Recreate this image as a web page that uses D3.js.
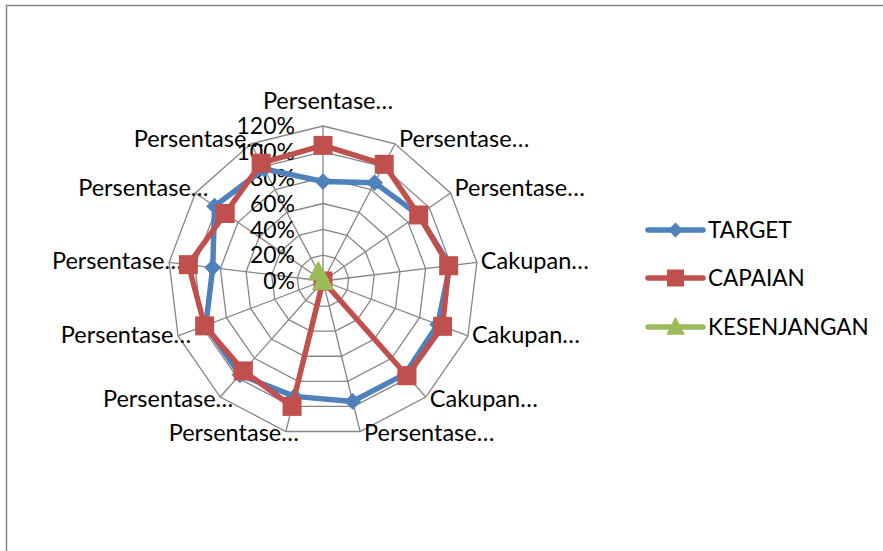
<!DOCTYPE html>
<html>
<head>
<meta charset="utf-8">
<script src="https://cdn.jsdelivr.net/npm/d3@7"></script>
<style>
  body { margin: 0; background: #fff; }
  svg { display: block; font-family: Lato, "Open Sans", sans-serif; }
</style>
</head>
<body>
<svg id="chart" width="883" height="551"></svg>
<script>
// axis labels, clockwise from the top (truncated as in the chart)
var axisLabels = ["Persentase…", "Persentase…", "Persentase…", "Cakupan…", "Cakupan…", "Cakupan…",
    "Persentase…", "Persentase…", "Persentase…", "Persentase…", "Persentase…", "Persentase…", "Persentase…"];

// values in %, one per axis
var target = [77, 86, 90, 99, 95, 96, 96, 92, 97, 97, 86, 102, 98];
var capaian = [105, 102, 90, 98, 99, 98, 0, 100, 93, 98, 105, 92, 103];
var kesenjangan = [0, 0, 0, 0, 0, 0, 0, 0, 0, 0, 0, 0, 8];

var tickValues = [0, 20, 40, 60, 80, 100, 120];
var seriesNames = ["TARGET", "CAPAIAN", "KESENJANGAN"];

var colors = ["#4F81BD", "#C0504D", "#9BBB59"];
var cx = 323, cy = 281;

var svg = d3.select("#chart");

// outer frame
svg.append("rect")
    .attr("x", 6.5).attr("y", 5.5)
    .attr("width", 900).attr("height", 600)
    .attr("fill", "none")
    .attr("stroke", "#878787")
    .attr("stroke-width", 1.5);

var n = axisLabels.length;
var angle = d3.scaleLinear().domain([0, n]).range([0, 2 * Math.PI]);
var r = d3.scaleLinear().domain([0, 120]).range([0, 155]);

function pt(i, v) {
    var a = angle(i);
    return [cx + r(v) * Math.sin(a), cy - r(v) * Math.cos(a)];
}

var g = svg.append("g");

// grid rings
tickValues.slice(1).forEach(function(t) {
    g.append("path")
        .attr("d", d3.line()(d3.range(n).map(function(i) { return pt(i, t); })) + "Z")
        .attr("fill", "none")
        .attr("stroke", "#868686")
        .attr("stroke-width", 1.3);
});

// spokes
d3.range(n).forEach(function(i) {
    var p = pt(i, 120);
    g.append("line")
        .attr("x1", cx).attr("y1", cy)
        .attr("x2", p[0]).attr("y2", p[1])
        .attr("stroke", "#868686")
        .attr("stroke-width", 1.3);
});

// tick labels
g.selectAll(".tick")
    .data(tickValues)
    .enter()
    .append("text")
    .attr("x", 295)
    .attr("y", function(d) { return cy - r(d); })
    .attr("dy", "0.36em")
    .attr("text-anchor", "end")
    .style("font-size", "23px")
    .attr("fill", "#000")
    .text(function(d) { return d + "%"; });

// axis labels
g.selectAll(".axlab")
    .data(axisLabels)
    .enter()
    .append("text")
    .attr("x", function(d, i) {
        var p = pt(i, 120), s = Math.sin(angle(i));
        if (i === 0) return p[0] + 5;
        return s > 0 ? p[0] + 4 : p[0] + 13;
    })
    .attr("y", function(d, i) {
        var p = pt(i, 120), c = Math.cos(angle(i));
        if (i === 0) return p[1] - 25;
        return p[1] + (c > 0.3 ? -5 : (c < -0.6 ? 1.5 : -1.5));
    })
    .attr("dy", "0.36em")
    .attr("text-anchor", function(d, i) {
        if (i === 0) return "middle";
        return Math.sin(angle(i)) > 0 ? "start" : "end";
    })
    .style("font-size", "23.5px")
    .attr("fill", "#000")
    .text(function(d) { return d; });

var series = [target, capaian, kesenjangan];

function marker(sel, k, size) {
    if (k === 0) {
        sel.append("path").attr("d", d3.symbol(d3.symbolDiamond2, size * size * 0.5)());
    } else if (k === 1) {
        sel.append("rect").attr("x", -size / 2).attr("y", -size / 2).attr("width", size).attr("height", size);
    } else {
        sel.append("path").attr("d", "M0," + (-size * 0.6) + "L" + (size * 0.55) + "," + (size * 0.45) + "L" + (-size * 0.55) + "," + (size * 0.45) + "Z");
    }
}

series.forEach(function(vals, k) {
    var pts = vals.map(function(v, i) { return pt(i, v); });
    g.append("path")
        .attr("d", d3.line()(pts) + "Z")
        .attr("fill", "none")
        .attr("stroke", colors[k])
        .attr("stroke-width", 5.5)
        .attr("stroke-linejoin", "round");
    pts.forEach(function(p) {
        var m = g.append("g")
            .attr("transform", "translate(" + p[0] + "," + p[1] + ")")
            .attr("fill", colors[k]);
        marker(m, k, 19);
    });
});

// legend
var legY = [230, 278, 327];
var leg = svg.append("g");
seriesNames.forEach(function(name, k) {
    leg.append("line")
        .attr("x1", 648).attr("x2", 703)
        .attr("y1", legY[k]).attr("y2", legY[k])
        .attr("stroke", colors[k])
        .attr("stroke-width", 5.5)
        .attr("stroke-linecap", "round");
    var m = leg.append("g")
        .attr("transform", "translate(675.5," + legY[k] + ")")
        .attr("fill", colors[k]);
    marker(m, k, 17);
    leg.append("text")
        .attr("x", 708)
        .attr("y", legY[k])
        .attr("dy", "0.36em")
        .style("font-size", "22.5px")
        .attr("fill", "#000")
        .text(name);
});
</script>
</body>
</html>
